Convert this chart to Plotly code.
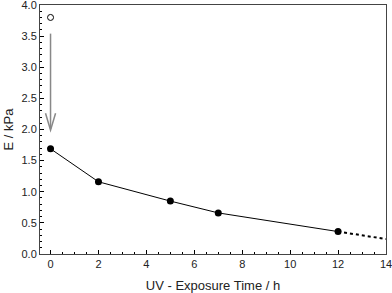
import plotly.graph_objects as go

time_h = [0, 2, 5, 7, 12]
modulus_kpa = [1.69, 1.16, 0.85, 0.66, 0.36]
extrap_time = [12, 14]
extrap_modulus = [0.36, 0.24]
initial_time = [0]
initial_modulus = [3.80]
arrow_x = 0
arrow_top = 3.54
arrow_tip = 1.99

fig = go.Figure()
fig.add_trace(go.Scatter(x=extrap_time, y=extrap_modulus, mode="lines",
                         line=dict(color="black", width=2, dash="dot"), showlegend=False))
fig.add_trace(go.Scatter(x=time_h, y=modulus_kpa, mode="lines+markers",
                         line=dict(color="black", width=1),
                         marker=dict(color="black", size=7), showlegend=False))
fig.add_trace(go.Scatter(x=initial_time, y=initial_modulus, mode="markers",
                         marker=dict(color="white", size=6, line=dict(color="black", width=1)),
                         showlegend=False))

# arrow
hw, hl = 0.21, 0.27
fig.add_shape(type="line", x0=arrow_x, x1=arrow_x, y0=arrow_top, y1=arrow_tip + 0.02,
              line=dict(color="#888888", width=1.5))
fig.add_shape(type="path",
              path=f"M {arrow_x-hw},{arrow_tip+hl} L {arrow_x},{arrow_tip} L {arrow_x+hw},{arrow_tip+hl}",
              line=dict(color="#888888", width=1.5))

font = dict(family="Liberation Sans, Arial", size=11, color="#222222")
fig.update_layout(
    width=392, height=293,
    margin=dict(l=40, r=6, t=5, b=39),
    plot_bgcolor="white", paper_bgcolor="white",
    font=font,
    xaxis=dict(range=[-0.44, 14], tickmode="array", tickvals=[0, 2, 4, 6, 8, 10, 12, 14],
               ticks="inside", ticklen=4, tickcolor="black", ticklabeloverflow="allow",
               automargin=False,
               minor=dict(dtick=0.5, ticks="inside", ticklen=2, tickcolor="black"),
               showgrid=False, zeroline=False, showline=True, linecolor="#444444", linewidth=1,
               mirror=True,
               title=dict(text="UV - Exposure Time / h", font=dict(size=13, color="#222222"), standoff=14)),
    yaxis=dict(range=[0, 4.0], tickmode="array", tickvals=[0, 0.5, 1, 1.5, 2, 2.5, 3, 3.5, 4],
               ticktext=["0.0", "0.5", "1.0", "1.5", "2.0", "2.5", "3.0", "3.5", "4.0"],
               ticks="inside", ticklen=4, tickcolor="black", ticklabeloverflow="allow",
               automargin=False,
               minor=dict(dtick=0.1, ticks="inside", ticklen=2, tickcolor="black"),
               showgrid=False, zeroline=False, showline=True, linecolor="#444444", linewidth=1,
               mirror=True,
               title=dict(text="E / kPa", font=dict(size=13, color="#222222"), standoff=4)),
)
fig.write_html("out.html", config={"displayModeBar": False},
               post_script="document.body.style.margin='0';")
